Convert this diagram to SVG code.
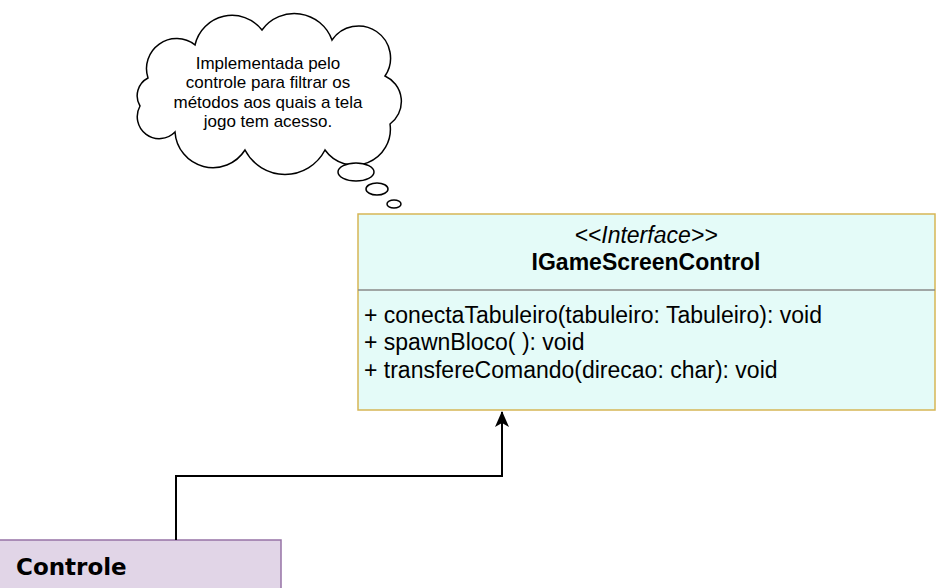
<svg xmlns="http://www.w3.org/2000/svg" width="939" height="588" viewBox="0 0 939 588">
<defs>
<style>
.t{font-family:"Liberation Sans",Arial,sans-serif;fill:#000}
.cl{font-size:17px;text-anchor:middle}
.m{font-size:23px}
</style>
<marker id="arr" markerWidth="16" markerHeight="16" viewBox="0 0 16 16" refX="15" refY="8" orient="auto" markerUnits="userSpaceOnUse">
<path d="M0,1 L16,8 L0,15 L4,8 Z" fill="#000"/>
</marker>
</defs>
<rect width="939" height="588" fill="#fff"/>
<g id="note">
<path d="M148,78 A30,30 0 0 1 195,45 A38,38 0 0 1 262,30 A40,40 0 0 1 332,40 A32,32 0 0 1 385,76 A28,28 0 0 1 390,124 A36,36 0 0 1 325,150 A45,45 0 0 1 245,150 A38,38 0 0 1 175,132 A22,22 0 0 1 140,106 A20,20 0 0 1 148,78 Z" fill="#fff" stroke="#000" stroke-width="1.5"/>
<ellipse cx="356" cy="172" rx="18" ry="9" fill="#fff" stroke="#000" stroke-width="1.5"/>
<ellipse cx="377" cy="189" rx="11" ry="6" fill="#fff" stroke="#000" stroke-width="1.5"/>
<ellipse cx="394" cy="204" rx="7" ry="4" fill="#fff" stroke="#000" stroke-width="1.5"/>
<text class="t cl" x="268" y="69">Implementada pelo</text>
<text class="t cl" x="268" y="88">controle para filtrar os</text>
<text class="t cl" x="268" y="108">métodos aos quais a tela</text>
<text class="t cl" x="268" y="127">jogo tem acesso.</text>
</g>
<g id="IGameScreenControl">
<rect x="358" y="214" width="577" height="196" fill="#e4fbf8" stroke="#d6b656" stroke-width="1.5"/>
<line x1="358" y1="290" x2="935" y2="290" stroke="#8a8a8a" stroke-width="1.5"/>
<text class="t" x="646" y="243" font-size="23" font-style="italic" text-anchor="middle">&lt;&lt;Interface&gt;&gt;</text>
<text class="t" x="646" y="270" font-size="23" font-weight="bold" text-anchor="middle">IGameScreenControl</text>
<text class="t m" x="364" y="323">+ conectaTabuleiro(tabuleiro: Tabuleiro): void</text>
<text class="t m" x="364" y="350">+ spawnBloco( ): void</text>
<text class="t m" x="364" y="378">+ transfereComando(direcao: char): void</text>
</g>
<g id="Controle">
<rect x="-2" y="540" width="283" height="60" fill="#e1d5e7" stroke="#9673a6" stroke-width="1.5"/>
<text x="16" y="575" font-family="'DejaVu Sans',sans-serif" font-size="23" font-weight="bold" fill="#000">Controle</text>
</g>
<g id="connectors">
<path d="M176,540 V476 H502 V412" fill="none" stroke="#000" stroke-width="2" marker-end="url(#arr)"/>
</g>
</svg>
